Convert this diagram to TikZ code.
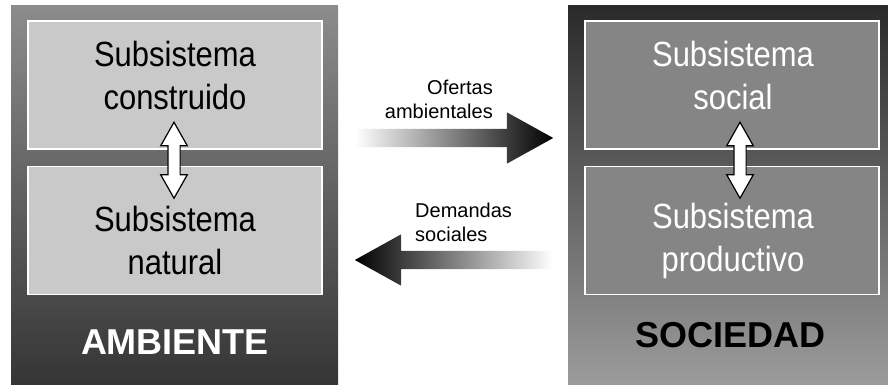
\documentclass[tikz,border=0pt]{standalone}
\usepackage{fontspec}
\setmainfont{Liberation Sans}
\usetikzlibrary{shapes.arrows,calc}

\definecolor{ambtop}{HTML}{8C8C8C}
\definecolor{ambbot}{HTML}{353535}
\definecolor{soctop}{HTML}{2A2A2A}
\definecolor{socbot}{HTML}{9C9C9C}
\definecolor{boxlight}{HTML}{C9C9C9}
\definecolor{boxdark}{HTML}{858585}

\tikzset{
  panel/.style={rectangle, draw=none, minimum width=327pt, minimum height=379pt, inner sep=0pt},
  subbox/.style={rectangle, draw=white, line width=1.3pt, minimum width=294pt, minimum height=128pt, inner sep=0pt},
  subtext/.style={align=center, inner sep=0pt, xscale=0.885, transform shape, font=\fontsize{35}{43}\selectfont},
  title/.style={inner sep=0pt, font=\fontsize{36}{40}\selectfont\bfseries},
  flowtext/.style={inner sep=0pt, font=\fontsize{20}{24}\selectfont},
  flow/.style={single arrow, draw=none, minimum height=198pt, inner xsep=0pt, inner ysep=9pt,
    single arrow head extend=16.5pt, single arrow tip angle=58},
  link/.style={double arrow, draw=black, fill=white, line width=1.2pt, rotate=90,
    minimum height=76pt, inner xsep=0pt, inner ysep=5.5pt,
    double arrow head extend=7.2pt, double arrow tip angle=59}
}

\begin{document}
\begin{tikzpicture}[x=1pt, y=1pt]
  \useasboundingbox (0,0) rectangle (888,385);

  % panels
  \node[panel, top color=ambtop, bottom color=ambbot] at (174.5,189.5) (amb) {};
  \node[panel, top color=soctop, bottom color=socbot, minimum width=320pt] at (728,189.5) (soc) {};

  % subsystems, left
  \node[subbox, fill=boxlight] at (175,300) (constr) {};
  \node[subbox, fill=boxlight] at (175,154.5) (natur) {};
  \node[subtext, anchor=base] at (175,275) (constr-t) {Subsistema\\construido};
  \node[subtext, anchor=base] at (175,110) (natur-t) {Subsistema\\natural};

  % subsystems, right
  \node[subbox, fill=boxdark] at (732,300) (social) {};
  \node[subbox, fill=boxdark] at (732,154.5) (prod) {};
  \node[subtext, text=white, anchor=base] at (733,275) (social-t) {Subsistema\\social};
  \node[subtext, text=white, anchor=base] at (733,113) (prod-t) {Subsistema\\productivo};

  \node[link] at ($(constr.south)!0.5!(natur.north)+(-1,-2.5)$) (constr-natur) {};
  \node[link] at ($(social.south)!0.5!(prod.north)+(8,-2.5)$) (social-prod) {};

  \node[title, text=white, anchor=base] at (175,30) (amb-t) {AMBIENTE};
  \node[title, text=black, anchor=base] at (730,37) (soc-t) {SOCIEDAD};

  % exchanges
  \node[flow, anchor=tail, left color=white, middle color=black!65, right color=black] at (355,247) (oferta) {};
  \node[flow, anchor=tail, shape border rotate=180, left color=black, middle color=black!65, right color=white] at (553,125) (demanda) {};

  \node[flowtext, align=right, anchor=base east] at (493,266) (oferta-t) {Ofertas\\ambientales};
  \node[flowtext, align=left, anchor=base west] at (415,143) (demanda-t) {Demandas\\sociales};
\end{tikzpicture}
\end{document}
